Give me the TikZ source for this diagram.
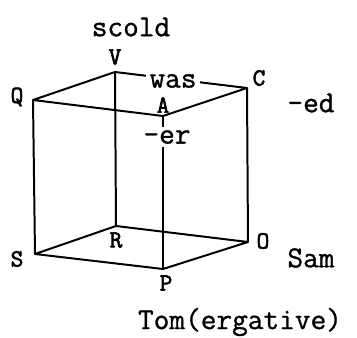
\documentclass[tikz,border=0pt]{standalone}
\usepackage{fontspec}
\newfontfamily\typew{Latin Modern Mono}[FakeBold=1]
\newfontfamily\typecap{Latin Modern Mono}[FakeBold=2.5]
\usetikzlibrary{positioning}
\tikzset{
  edge/.style={line width=1.7pt,line join=round},
  corner/.style={font=\fontsize{21}{21}\selectfont\typecap,inner sep=1pt},
  word/.style={font=\fontsize{26}{28}\selectfont\typew,inner sep=1pt},
  gap/.style={word,fill=white,inner sep=3pt}
}
\begin{document}
\begin{tikzpicture}[x=0.3mm,y=-0.3mm]
\useasboundingbox (0,0) rectangle (357,338);
\coordinate (q) at (33,100);
\coordinate (v) at (115,72);
\coordinate (c) at (247,88);
\coordinate (a) at (163,116);
\coordinate (s) at (35,254);
\coordinate (r) at (116,226);
\coordinate (o) at (248,242);
\coordinate (p) at (163,269);
\draw[edge] (q)--(v)--(c)--(a)--cycle;
\draw[edge] (s)--(r)--(o)--(p)--cycle;
\draw[edge] (q)--(s);\draw[edge] (v)--(r);\draw[edge] (c)--(o);\draw[edge] (a)--(p);
\node[gap] (was) at (173,81) {was};
\node[gap] (er) at (167,137) {-er};
\node[corner] (ql) at (17,97) {Q};
\node[corner] (vl) at (115,57) {V};
\node[corner] (cl) at (259,78) {C};
\node[corner] (al) at (163,105) {A};
\node[corner] (sl) at (17,259) {S};
\node[corner] (rl) at (116,240) {R};
\node[corner] (ol) at (263,241) {O};
\node[corner] (pl) at (166,283) {P};
\node[word] (scold) at (131,27) {scold};
\node[word] (ed) at (311,103) {-ed};
\node[word] (sam) at (311,258) {Sam};
\node[word] (tom) at (240,322) {Tom(ergative)};
\end{tikzpicture}
\end{document}
